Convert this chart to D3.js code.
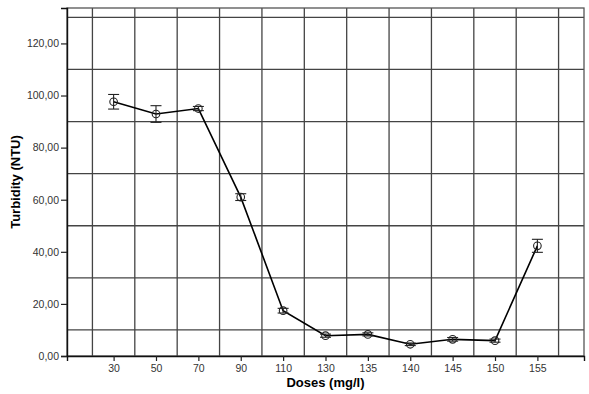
<!DOCTYPE html>
<html>
<head>
<meta charset="utf-8">
<script src="https://cdn.jsdelivr.net/npm/d3@7"></script>
<style>
  body { margin: 0; background: #fff; }
  svg { display: block; font-family: "Liberation Sans", Arial, sans-serif; }
</style>
</head>
<body>
<div id="chart"></div>
<script>
// doses (mg/l) and mean turbidity (NTU) with error bar half-widths
const doses = ["30", "50", "70", "90", "110", "130", "135", "140", "145", "150", "155"];
const turbidity = [97.6, 92.9, 95.0, 61.0, 17.4, 7.8, 8.3, 4.5, 6.4, 5.9, 42.3];
const errors = [2.8, 3.2, 0.8, 1.3, 0.9, 0.6, 0.6, 0.5, 0.7, 0.6, 2.5];
const yTicks = [0, 20, 40, 60, 80, 100, 120];
const yGrid = [10, 30, 50, 70, 90, 110, 130];

const width = 589, height = 394;
const plotLeft = 67, plotRight = 584, plotTop = 8, plotBottom = 356;

const svg = d3.select("#chart")
    .append("svg")
        .attr("width", width)
        .attr("height", height);

const x = d3.scalePoint()
    .domain(doses)
    .range([plotLeft, plotRight])
    .padding(1.1);

const y = d3.scaleLinear()
    .domain([0, 133.6])
    .range([plotBottom, plotTop]);

// vertical grid lines sit halfway between categories
const step = x.step();
const xGrid = doses.map(d => x(d) - step / 2).concat([x(doses[doses.length - 1]) + step / 2]);

const grid = svg.append("g")
    .attr("stroke", "#444")
    .attr("stroke-width", 1.3);

grid.selectAll("line.h")
    .data(yGrid)
    .enter()
    .append("line")
        .attr("class", "h")
        .attr("x1", plotLeft)
        .attr("x2", plotRight)
        .attr("y1", d => y(d))
        .attr("y2", d => y(d));

grid.selectAll("line.v")
    .data(xGrid)
    .enter()
    .append("line")
        .attr("class", "v")
        .attr("x1", d => d)
        .attr("x2", d => d)
        .attr("y1", plotTop)
        .attr("y2", plotBottom);

// frame
svg.append("rect")
    .attr("x", plotLeft)
    .attr("y", plotTop)
    .attr("width", plotRight - plotLeft)
    .attr("height", plotBottom - plotTop)
    .attr("fill", "none")
    .attr("stroke", "#555")
    .attr("stroke-width", 1.3);

// axes
const yAxis = svg.append("g")
    .attr("transform", `translate(${plotLeft},0)`)
    .call(d3.axisLeft(y)
        .tickValues(yTicks)
        .tickSize(6)
        .tickPadding(2)
        .tickFormat(d => d3.format(".2f")(d).replace(".", ",")));

const xAxis = svg.append("g")
    .attr("transform", `translate(0,${plotBottom})`)
    .call(d3.axisBottom(x)
        .tickSize(5)
        .tickPadding(4));

[yAxis, xAxis].forEach(a => {
    a.select(".domain").attr("stroke", "#111").attr("stroke-width", 1.4);
    a.selectAll(".tick line").attr("stroke", "#222").attr("stroke-width", 1.2);
    a.selectAll(".tick text")
        .attr("fill", "#333")
        .style("font-size", "10.5px")
        .style("font-family", "'Liberation Sans', Arial, sans-serif");
});

// line
svg.append("path")
    .datum(doses)
    .attr("fill", "none")
    .attr("stroke", "#000")
    .attr("stroke-width", 1.6)
    .attr("d", d3.line()
        .x(d => x(d))
        .y((d, i) => y(turbidity[i])));

// error bars
const eb = svg.append("g")
    .attr("stroke", "#222")
    .attr("stroke-width", 1.1);

eb.selectAll("line.stem")
    .data(doses)
    .enter()
    .append("line")
        .attr("class", "stem")
        .attr("x1", d => x(d))
        .attr("x2", d => x(d))
        .attr("y1", (d, i) => y(turbidity[i] + errors[i]))
        .attr("y2", (d, i) => y(turbidity[i] - errors[i]));

eb.selectAll("line.capTop")
    .data(doses)
    .enter()
    .append("line")
        .attr("class", "capTop")
        .attr("x1", d => x(d) - 5.5)
        .attr("x2", d => x(d) + 5.5)
        .attr("y1", (d, i) => y(turbidity[i] + errors[i]))
        .attr("y2", (d, i) => y(turbidity[i] + errors[i]));

eb.selectAll("line.capBottom")
    .data(doses)
    .enter()
    .append("line")
        .attr("class", "capBottom")
        .attr("x1", d => x(d) - 5.5)
        .attr("x2", d => x(d) + 5.5)
        .attr("y1", (d, i) => y(turbidity[i] - errors[i]))
        .attr("y2", (d, i) => y(turbidity[i] - errors[i]));

// markers
svg.selectAll("circle")
    .data(doses)
    .enter()
    .append("circle")
        .attr("cx", d => x(d))
        .attr("cy", (d, i) => y(turbidity[i]))
        .attr("r", 3.8)
        .attr("fill", "none")
        .attr("stroke", "#222")
        .attr("stroke-width", 1.1);

// axis titles
svg.append("text")
    .attr("x", (plotLeft + plotRight) / 2)
    .attr("y", 387)
    .attr("text-anchor", "middle")
    .style("font-size", "13px")
    .style("font-weight", "bold")
    .text("Doses (mg/l)");

svg.append("text")
    .attr("transform", "rotate(-90)")
    .attr("x", -(plotTop + plotBottom) / 2)
    .attr("y", 20)
    .attr("text-anchor", "middle")
    .style("font-size", "13px")
    .style("font-weight", "bold")
    .text("Turbidity (NTU)");
</script>
</body>
</html>
